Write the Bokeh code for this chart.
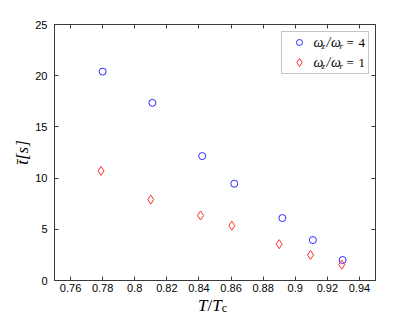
from bokeh.plotting import figure
from bokeh.layouts import column
from bokeh.models import Range1d, LinearAxis, FixedTicker, Label, BoxAnnotation, CustomJSTickFormatter, Div
from bokeh.embed import file_html
from bokeh.resources import INLINE

# ---- data ----
t_ratio_w4 = [0.780, 0.811, 0.842, 0.862, 0.892, 0.911, 0.9295]
t_mean_w4 = [20.4, 17.35, 12.15, 9.45, 6.1, 3.95, 2.0]
t_ratio_w1 = [0.779, 0.810, 0.841, 0.8605, 0.890, 0.9095, 0.929]
t_mean_w1 = [10.7, 7.9, 6.35, 5.35, 3.55, 2.5, 1.55]
x_ticks = [0.76, 0.78, 0.80, 0.82, 0.84, 0.86, 0.88, 0.90, 0.92, 0.94]
y_ticks = [0, 5, 10, 15, 20, 25]

XMIN, XMAX, YMIN, YMAX = 0.75, 0.95, 0, 25
W, H = 400, 298
FL, FR, FT, FB = 54, 375, 24, 280  # frame edges in figure pixels

BLUE = "#2b2bff"
RED = "#ff2b2b"
AXC = "#3a3a3a"
SERIF = "Liberation Serif"

p = figure(width=W, height=H, output_backend="svg", toolbar_location=None,
           x_range=Range1d(XMIN, XMAX), y_range=Range1d(YMIN, YMAX),
           min_border_left=FL, min_border_right=W - FR,
           min_border_top=FT, min_border_bottom=H - FB,
           x_axis_location=None, y_axis_location=None)
p.xgrid.visible = False
p.ygrid.visible = False
p.outline_line_color = AXC
p.outline_line_width = 1
p.background_fill_color = "white"
p.border_fill_color = "white"

fmt = CustomJSTickFormatter(code="return String(Math.round(tick*100)/100)")
blank = CustomJSTickFormatter(code="return ''")

def make_axis(ticks, labels=True, fmt_=None, standoff=4):
    ax = LinearAxis(ticker=FixedTicker(ticks=ticks))
    ax.major_tick_in = 4
    ax.major_tick_out = 0
    ax.minor_tick_in = 0
    ax.minor_tick_out = 0
    ax.axis_line_color = AXC
    ax.major_tick_line_color = AXC
    if labels:
        if fmt_ is not None:
            ax.formatter = fmt_
        ax.major_label_text_font = "Liberation Sans"
        ax.major_label_text_font_size = "11px"
        ax.major_label_text_color = "black"
        ax.major_label_standoff = standoff
    else:
        ax.formatter = blank
        ax.major_label_standoff = 0
    return ax

xaxis = make_axis(x_ticks, True, fmt, standoff=3)
yaxis = make_axis(y_ticks, True, standoff=7)
yaxis.axis_label = "t̄[s]"
yaxis.axis_label_text_font = SERIF
yaxis.axis_label_text_font_style = "italic"
yaxis.axis_label_text_font_size = "17px"
yaxis.axis_label_text_color = "black"
yaxis.axis_label_standoff = 0
p.add_layout(xaxis, "below")
p.add_layout(yaxis, "left")
p.add_layout(make_axis(x_ticks, False), "above")
p.add_layout(make_axis(y_ticks, False), "right")

# data marks
p.scatter(t_ratio_w4, t_mean_w4, marker="circle", size=7, fill_color=None,
          line_color=BLUE, line_width=1)
p.scatter(t_ratio_w1, t_mean_w1, marker="diamond", size=9, fill_color=None,
          line_color=RED, line_width=1)

# helpers: picture pixel -> data coordinates (legend inside the frame)
def sx(X):
    return XMIN + (X - FL) / (FR - FL) * (XMAX - XMIN)

def sy(Y):
    return YMIN + (FB - Y) / (FB - FT) * (YMAX - YMIN)

def txt(X, Y, text, size, italic=True, align="left"):
    p.add_layout(Label(x=sx(X), y=sy(Y), text=text, text_font_size=f"{size}px",
                       text_font=SERIF, text_font_style="italic" if italic else "normal",
                       text_align=align, text_baseline="middle", text_color="black"))

# legend
p.add_layout(BoxAnnotation(left=sx(281), right=sx(368), top=sy(31), bottom=sy(73),
                           fill_color="white", fill_alpha=1.0, line_color=AXC, line_width=1,
                           level="annotation"))
p.scatter([sx(299)], [sy(42)], marker="circle", size=6, fill_color=None,
          line_color=BLUE, line_width=1, level="overlay")
p.scatter([sx(299)], [sy(62)], marker="diamond", size=8, fill_color=None,
          line_color=RED, line_width=1, level="overlay")
for yc, num in ((42, "4"), (62, "1")):
    txt(313, yc, "ω", 14)
    txt(321, yc + 3, "z", 9)
    txt(326, yc, "/", 14)
    txt(330.5, yc, "ω", 14)
    txt(339, yc + 3, "r", 9)
    txt(346, yc, "=", 13, italic=False)
    txt(358, yc, num, 13, italic=False)

# x-axis label with a real subscript, placed right under the figure
xlabel = Div(
    text=("<div style=\"padding-left:198px;font-family:'Liberation Serif',serif;"
          "font-size:17px;line-height:16px;color:black;white-space:nowrap;\">"
          "<i>T</i>/<i>T</i><span style=\"font-size:12px;font-style:normal;"
          "vertical-align:-1px;\">c</span></div>"),
    width=W, height=16, margin=(0, 0, 0, 0))

layout = column(p, xlabel, spacing=0)
open("out.html", "w").write(file_html(layout, INLINE))
